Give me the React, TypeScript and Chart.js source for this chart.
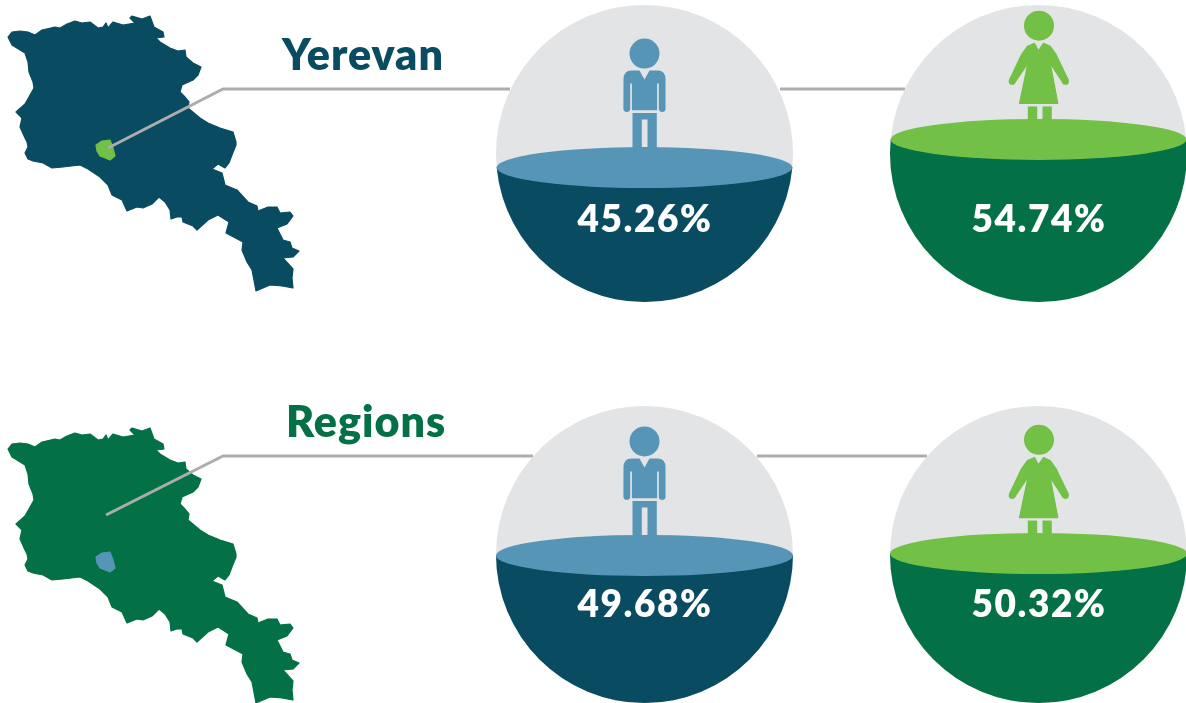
import React, { useEffect, useRef } from "react";
import { Chart, registerables } from "chart.js";

Chart.register(...registerables);

const DARK_BLUE = "#094C62";
const LIGHT_BLUE = "#5795B7";
const DARK_GREEN = "#037046";
const LIGHT_GREEN = "#72C045";
const GREY = "#E3E4E6";
const LINE = "#ADADB0";
const FONT = "Lato, sans-serif";

const groups = ["Yerevan", "Regions"];
const maleShare = [45.26, 49.68];
const femaleShare = [54.74, 50.32];

const mapX = [8,12,20,28,35,42,55,60,67,75,82,90,98,103,106,108,113,123,135,130,132,142,150,154,163,164,156,160,170,178,185,186,193,201,198,193,182,180,184,189,188,200,208,220,233,236,236,232,229,225,218,212,222,225,237,248,257,258,268,277,280,290,293,287,277,283,290,292,299,293,283,293,292,293,282,270,256,252,247,242,243,226,229,218,208,197,193,183,182,177,171,170,165,159,152,143,137,127,122,112,108,100,88,80,63,52,43,33,28,25,28,27,25,20,22,16,25,34,33,29,28,25,12];
const mapY = [37,32,31,32,35,30,27,28,24,21,23,22,28,27,23,28,22,25,23,18,16,19,16,27,32,37,38,42,48,51,50,57,63,67,75,80,85,92,96,102,108,118,123,128,132,142,145,155,163,168,164,169,173,185,190,202,206,211,207,207,213,212,216,224,228,240,242,248,251,257,258,269,278,288,286,285,291,270,262,250,242,233,222,215,220,230,226,222,217,217,219,210,202,197,204,208,207,211,200,195,185,177,169,165,167,168,163,161,159,153,147,142,138,127,118,112,104,88,82,72,62,53,45];
const capitalX = [96,102,110,113,115,110,100,97];
const capitalY = [145,141,140,148,156,160,156,151];
const pointerX = [108,223,510];
const pointerY = [148,89,89];
const linkX = [780,905];
const linkY = [89,89];
const ROW_SHIFT = [0, 412];
const ROW_SHIFT_LINK = [0, 367];

const pts = (xs: number[], ys: number[], dy = 0) => xs.map((x, i) => ({ x, y: ys[i] + dy }));

const polygonPlugin = {
  id: "polygons",
  beforeDatasetsDraw(chart: any) {
    const { ctx } = chart;
    chart.data.datasets.forEach((ds: any, i: number) => {
      if (!ds.polygonFill) return;
      const el = chart.getDatasetMeta(i).data;
      ctx.save();
      ctx.beginPath();
      el.forEach((p: any, k: number) => (k ? ctx.lineTo(p.x, p.y) : ctx.moveTo(p.x, p.y)));
      ctx.closePath();
      ctx.fillStyle = ds.polygonFill;
      ctx.strokeStyle = ds.polygonFill;
      ctx.lineWidth = 1.2;
      ctx.lineJoin = "round";
      ctx.fill();
      ctx.stroke();
      ctx.restore();
    });
  },
  afterDatasetsDraw(chart: any) {
    const { ctx, scales } = chart;
    const titles = [
      { t: groups[0], x: 282, y: 69.5, c: DARK_BLUE },
      { t: groups[1], x: 286, y: 436.5, c: DARK_GREEN },
    ];
    ctx.save();
    ctx.font = `800 43px ${FONT}`;
    if ("letterSpacing" in ctx) ctx.letterSpacing = "1px";
    ctx.textBaseline = "alphabetic";
    titles.forEach((o) => {
      ctx.fillStyle = o.c;
      ctx.fillText(o.t, scales.x.getPixelForValue(o.x), scales.y.getPixelForValue(o.y));
    });
    ctx.restore();
  },
};

function drawMan(ctx: any, cx: number, ly: number, c: string) {
  ctx.fillStyle = c;
  ctx.beginPath();
  ctx.arc(cx, ly - 114, 15, 0, Math.PI * 2);
  ctx.fill();
  const P = (x: number, y: number) => [cx + x, ly + y] as const;
  ctx.beginPath();
  ctx.moveTo(...P(-5, -97));
  ctx.lineTo(...P(0, -88));
  ctx.lineTo(...P(5, -97));
  ctx.lineTo(...P(13, -97));
  ctx.quadraticCurveTo(...P(21, -97), ...P(21, -88));
  ctx.lineTo(...P(21, -60));
  ctx.arc(cx + 17.7, ly - 59, 3.4, 0, Math.PI);
  ctx.lineTo(...P(14.3, -84));
  ctx.lineTo(...P(12.6, -84));
  ctx.lineTo(...P(12.6, -57.3));
  ctx.lineTo(...P(-12.6, -57.3));
  ctx.lineTo(...P(-12.6, -84));
  ctx.lineTo(...P(-14.3, -84));
  ctx.lineTo(...P(-14.3, -60));
  ctx.arc(cx - 17.7, ly - 59, 3.4, 0, Math.PI);
  ctx.lineTo(...P(-21, -88));
  ctx.quadraticCurveTo(...P(-21, -97), ...P(-13, -97));
  ctx.closePath();
  ctx.fill();
  ctx.beginPath();
  ctx.moveTo(...P(-12, -54.5));
  ctx.lineTo(...P(12.3, -54.5));
  ctx.lineTo(...P(12.3, -10));
  ctx.lineTo(...P(3, -10));
  ctx.lineTo(...P(3, -48));
  ctx.lineTo(...P(-2.7, -48));
  ctx.lineTo(...P(-2.7, -10));
  ctx.lineTo(...P(-12, -10));
  ctx.closePath();
  ctx.fill();
}

function drawWoman(ctx: any, cx: number, ly: number, c: string) {
  ctx.fillStyle = c;
  ctx.strokeStyle = c;
  ctx.beginPath();
  ctx.arc(cx + 0.5, ly - 113.7, 15, 0, Math.PI * 2);
  ctx.fill();
  const shape = [[-4,-96],[0,-88.7],[5,-96],[11.7,-93],[17.3,-85.3],[29.5,-60],[24.5,-56.5],[11.7,-76.3],[19.3,-36],[-19,-36],[-10.5,-76.3],[-24,-56.5],[-28.8,-60],[-16.7,-85.3],[-11,-93]];
  ctx.beginPath();
  shape.forEach(([x, y], i) => (i ? ctx.lineTo(cx + x, ly + y) : ctx.moveTo(cx + x, ly + y)));
  ctx.closePath();
  ctx.lineJoin = "round";
  ctx.lineWidth = 1.2;
  ctx.fill();
  ctx.stroke();
  [-26.4, 27].forEach((x) => {
    ctx.beginPath();
    ctx.arc(cx + x, ly - 58, 3.4, 0, Math.PI * 2);
    ctx.fill();
  });
  ctx.fillRect(cx - 10.7, ly - 33, 9.4, 23);
  ctx.fillRect(cx + 4, ly - 33, 9.3, 23);
}

const spherePlugin = {
  id: "sphere",
  beforeDatasetsDraw(chart: any) {
    const { ctx, chartArea: a } = chart;
    const cx = (a.left + a.right) / 2;
    const cy = (a.top + a.bottom) / 2;
    const r = (a.right - a.left) / 2;
    ctx.save();
    ctx.beginPath();
    ctx.arc(cx, cy, r, 0, Math.PI * 2);
    ctx.fillStyle = GREY;
    ctx.fill();
    ctx.clip();
  },
  afterDatasetsDraw(chart: any, _args: any, opts: any) {
    const { ctx, chartArea: a, scales } = chart;
    ctx.restore();
    const cx = (a.left + a.right) / 2;
    const cy = (a.top + a.bottom) / 2;
    const r = (a.right - a.left) / 2;
    const value = chart.data.datasets[0].data[0];
    const ly = scales.y.getPixelForValue(value);
    ctx.save();
    (opts.figure === "man" ? drawMan : drawWoman)(ctx, cx, ly, opts.light);
    const rx = Math.sqrt(Math.max(0, r * r - (ly - cy) * (ly - cy)));
    ctx.beginPath();
    ctx.ellipse(cx, ly, rx, 20.5, 0, 0, Math.PI * 2);
    ctx.fillStyle = opts.light;
    ctx.fill();
    ctx.font = `800 37px ${FONT}`;
    if ("letterSpacing" in ctx) ctx.letterSpacing = "1.6px";
    ctx.fillStyle = "#FFFFFF";
    ctx.textAlign = "center";
    ctx.textBaseline = "alphabetic";
    ctx.fillText(`${value.toFixed(2)}%`, cx + 0.5, opts.textY);
    ctx.restore();
  },
};

function makeSphere(canvas: HTMLCanvasElement, label: string, value: number, dark: string, light: string, figure: string, textY: number) {
  return new Chart(canvas, {
    type: "bar",
    data: {
      labels: [label],
      datasets: [{ data: [value], backgroundColor: dark, barPercentage: 1, categoryPercentage: 1, borderWidth: 0 }],
    },
    options: {
      responsive: false,
      animation: false,
      layout: { padding: 1 },
      events: [],
      scales: {
        x: { display: false },
        y: { display: false, min: 0, max: 100 },
      },
      plugins: { legend: { display: false }, tooltip: { enabled: false }, sphere: { dark, light, figure, textY } },
    } as any,
    plugins: [spherePlugin],
  });
}

const SPHERES = [
  { left: 495, top: 4, row: 0, kind: "man" },
  { left: 889, top: 4, row: 0, kind: "woman" },
  { left: 495, top: 405, row: 1, kind: "man" },
  { left: 889, top: 405, row: 1, kind: "woman" },
];

export default function App() {
  const bg = useRef<HTMLCanvasElement>(null);
  const refs = useRef<(HTMLCanvasElement | null)[]>([]);

  useEffect(() => {
    const mapColors = [DARK_BLUE, DARK_GREEN];
    const blobColors = [LIGHT_GREEN, LIGHT_BLUE];
    const datasets: any[] = [];
    groups.forEach((g, i) => {
      datasets.push({ label: `${g} map`, data: pts(mapX, mapY, ROW_SHIFT[i]), polygonFill: mapColors[i], pointRadius: 0, showLine: false });
      datasets.push({ label: `${g} area`, data: pts(capitalX, capitalY, ROW_SHIFT[i]), polygonFill: blobColors[i], pointRadius: 0, showLine: false });
      datasets.push({ label: `${g} pointer`, data: pts(i ? [pointerX[0] - 2, pointerX[1], 533] : pointerX, pointerY, ROW_SHIFT_LINK[i]), borderColor: LINE, borderWidth: 3, pointRadius: 0, showLine: true, borderJoinStyle: "miter" });
      datasets.push({ label: `${g} link`, data: pts(i ? [757, 927] : linkX, linkY, ROW_SHIFT_LINK[i]), borderColor: LINE, borderWidth: 3, pointRadius: 0, showLine: true });
    });
    const charts: Chart[] = [
      new Chart(bg.current!, {
        type: "scatter",
        data: { datasets },
        options: {
          responsive: false,
          animation: false,
          events: [],
          layout: { padding: 0 },
          scales: {
            x: { display: false, min: 0, max: 1186 },
            y: { display: false, min: 0, max: 703, reverse: true },
          },
          plugins: { legend: { display: false }, tooltip: { enabled: false } },
        } as any,
        plugins: [polygonPlugin],
      }),
    ];
    SPHERES.forEach((s, i) => {
      const isMan = s.kind === "man";
      const value = (isMan ? maleShare : femaleShare)[s.row];
      charts.push(
        makeSphere(
          refs.current[i]!,
          `${groups[s.row]} ${s.kind}`,
          value,
          isMan ? DARK_BLUE : DARK_GREEN,
          isMan ? LIGHT_BLUE : LIGHT_GREEN,
          s.kind,
          s.row === 0 ? 228 : 212
        )
      );
    });
    return () => charts.forEach((c) => c.destroy());
  }, []);

  return (
    <div style={{ position: "absolute", left: 0, top: 0, width: 1186, height: 703, overflow: "hidden", background: "#fff" }}>
      <canvas ref={bg} width={1186} height={703} style={{ position: "absolute", left: 0, top: 0 }} />
      {SPHERES.map((s, i) => (
        <canvas
          key={i}
          ref={(el) => {
            refs.current[i] = el;
          }}
          width={299}
          height={299}
          style={{ position: "absolute", left: s.left, top: s.top }}
        />
      ))}
    </div>
  );
}
